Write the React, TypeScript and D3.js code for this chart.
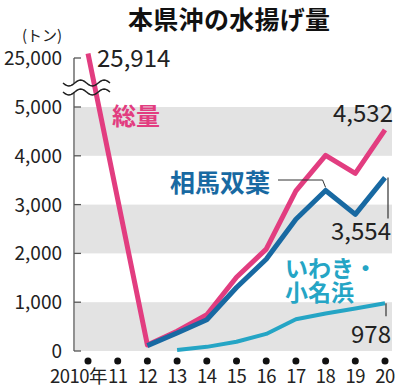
import React from 'react';
import * as d3 from 'd3';

// data
const years = [2010, 2011, 2012, 2013, 2014, 2015, 2016, 2017, 2018, 2019, 2020];
const yearLabels = ['2010年', '11', '12', '13', '14', '15', '16', '17', '18', '19', '20'];

const totalYears = [2010, 2012, 2013, 2014, 2015, 2016, 2017, 2018, 2019, 2020];
const totalValues = [25914, 122, 406, 742, 1512, 2087, 3283, 4010, 3641, 4532];

const soumaYears = [2012, 2013, 2014, 2015, 2016, 2017, 2018, 2019, 2020];
const soumaValues = [110, 370, 640, 1300, 1880, 2700, 3290, 2800, 3554];

const iwakiYears = [2013, 2014, 2015, 2016, 2017, 2018, 2019, 2020];
const iwakiValues = [20, 85, 190, 350, 650, 770, 870, 978];

const lowTicks = [0, 1000, 2000, 3000, 4000, 5000];
const tickText = ['0', '1,000', '2,000', '3,000', '4,000', '5,000'];
const bands = [[0, 1000], [2000, 3000], [4000, 5000]];

const PINK = '#e23d80';
const BLUE = '#1869a2';
const CYAN = '#25a5c5';
const FONT = '"Noto Sans CJK JP", "Noto Sans", sans-serif';

const W = 400;
const H = 389;

const App = () => {
  const x = d3.scaleLinear().domain([2010, 2020]).range([88, 385]);
  // broken axis: 0-5000 linear, then jump to 25000
  const y = d3.scaleLinear().domain([0, 5000, 25000, 26000]).range([351, 107, 58, 53]);

  const line = d3.line<[number, number]>()
    .x(d => x(d[0]))
    .y(d => y(d[1]));

  const total = line(totalYears.map((yr, i) => [yr, totalValues[i]]));
  const souma = line(soumaYears.map((yr, i) => [yr, soumaValues[i]]));
  const iwaki = line(iwakiYears.map((yr, i) => [yr, iwakiValues[i]]));

  const axisX = 74;
  const plotRight = 392;
  const last = years[years.length - 1];

  // wavy break line
  const wave = (yy: number) => {
    const pts: [number, number][] = [];
    for (let t = 0; t <= 40; t++) {
      const xx = 63 + t * (47 / 40);
      pts.push([xx, yy + 3 * Math.sin((t / 40) * Math.PI * 4)]);
    }
    return d3.line()(pts);
  };

  const breakTop = 83;
  const breakBot = 92;

  return (
    <svg width={W} height={H} style={{ position: 'absolute', left: 0, top: 0, background: '#fff' }} fontFamily={FONT}>
      {/* title */}
      <text x={128} y={29} fontSize={25} fontWeight={700} fill="#111" letterSpacing={0.3}>本県沖の水揚げ量</text>
      <text x={22} y={41} fontSize={15} fill="#222">(トン)</text>

      {/* bands */}
      {bands.map((b, i) => (
        <rect key={i} x={axisX + 1} y={y(b[1])} width={plotRight - axisX - 1} height={y(b[0]) - y(b[1])} fill="#e3e3e3" />
      ))}

      {/* y axis */}
      <line x1={axisX} x2={axisX} y1={y(25000)} y2={breakTop} stroke="#555" strokeWidth={1.3} />
      <line x1={axisX} x2={axisX} y1={breakBot} y2={y(0)} stroke="#555" strokeWidth={1.3} />
      <line x1={axisX} x2={axisX + 7} y1={y(25000)} y2={y(25000)} stroke="#555" strokeWidth={1.3} />
      {lowTicks.map(t => (
        <line key={t} x1={axisX} x2={axisX + 7} y1={y(t)} y2={y(t)} stroke="#555" strokeWidth={1.3} />
      ))}
      <text x={62} y={y(25000) + 7} fontSize={19} textAnchor="end" fill="#222">25,000</text>
      {lowTicks.map((t, i) => (
        <text key={t} x={62} y={y(t) + 7} fontSize={19} textAnchor="end" fill="#222">{tickText[i]}</text>
      ))}

      {/* lines */}
      <path d={iwaki || ''} fill="none" stroke={CYAN} strokeWidth={4} strokeLinejoin="round" />
      <path d={total || ''} fill="none" stroke={PINK} strokeWidth={5} strokeLinejoin="round" />
      <path d={souma || ''} fill="none" stroke={BLUE} strokeWidth={5} strokeLinejoin="round" />

      {/* axis break */}
      <path d={wave(breakTop) || ''} fill="none" stroke="#222" strokeWidth={1.5} />
      <path d={wave(breakBot) || ''} fill="none" stroke="#222" strokeWidth={1.5} />

      {/* x axis dots and labels */}
      {years.map((yr, i) => (
        <g key={yr}>
          <circle cx={x(yr)} cy={361} r={3.5} fill="#111" />
          <text
            x={i === 0 ? x(yr) + 19 : x(yr)}
            y={383}
            fontSize={18.5}
            textAnchor={i === 0 ? 'end' : 'middle'}
            fill="#222"
            letterSpacing={-0.5}
          >{yearLabels[i]}</text>
        </g>
      ))}

      {/* series labels */}
      <text x={112} y={125} fontSize={24} fontWeight={700} fill={PINK}>総量</text>
      <text x={170} y={192} fontSize={25} fontWeight={700} fill={BLUE}>相馬双葉</text>
      <text x={285} y={277} fontSize={23} fontWeight={700} fill={CYAN}>
        <tspan x={285} y={277}>いわき・</tspan>
        <tspan x={285} y={301}>小名浜</tspan>
      </text>

      {/* leader lines */}
      <path d={`M278,180H${x(2018) - 3}L${x(2018)},${y(soumaValues[6]) - 3}`} fill="none" stroke="#333" strokeWidth={1} />
      <line x1={x(last) + 3} x2={x(last) + 3} y1={y(3554)} y2={y(3554) + 41} stroke="#333" strokeWidth={1.2} />
      <line x1={x(last) + 1} x2={x(last) + 1} y1={y(978)} y2={y(978) + 13} stroke="#333" strokeWidth={1.2} />

      {/* value labels */}
      <text x={97} y={67} fontSize={24} fill="#222">25,914</text>
      <text x={393} y={122} fontSize={24} textAnchor="end" fill="#222">4,532</text>
      <text x={391} y={240} fontSize={24} textAnchor="end" fill="#222">3,554</text>
      <text x={391} y={343} fontSize={24} textAnchor="end" fill="#222">978</text>
    </svg>
  );
};

export default App;
